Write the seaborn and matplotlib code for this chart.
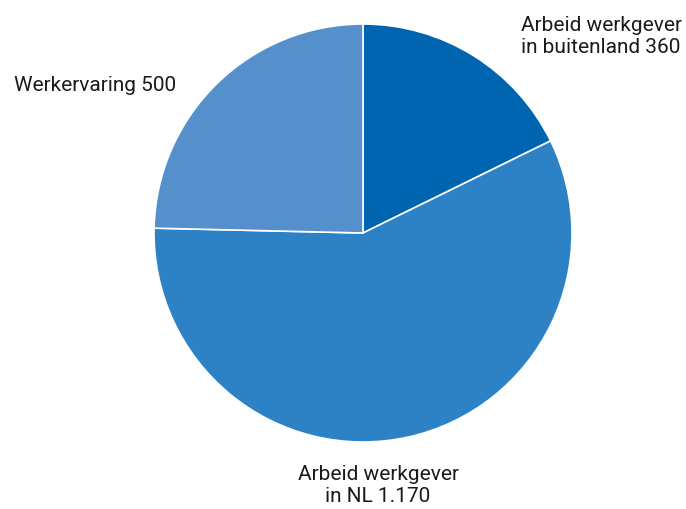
import matplotlib
matplotlib.use("Agg")
import matplotlib.pyplot as plt
import seaborn as sns

# data
labels = ["Arbeid werkgever\nin buitenland 360", "Arbeid werkgever\nin NL 1.170", "Werkervaring 500"]
values = [360, 1170, 500]
colors = ["#0065b0", "#2d82c6", "#5590cd"]

sns.set_theme(style="white")
plt.rcParams['font.family'] = ['Roboto', 'DejaVu Sans']

W, H = 686, 509
fig = plt.figure(figsize=(W / 100, H / 100), dpi=100)
cx, cy, r = 363, 233, 209
ax = fig.add_axes([(cx - r) / W, (H - cy - r) / H, 2 * r / W, 2 * r / H])

ax.pie(values, colors=colors, startangle=90, counterclock=False, radius=1,
       wedgeprops=dict(edgecolor="white", linewidth=1.2))
ax.set_xlim(-1, 1)
ax.set_ylim(-1, 1)
ax.set_aspect("equal")
ax.axis("off")

# label positions (data coords)
label_pos = [(1.139, 0.938), (0.072, -1.206), (-1.282, 0.708)]
for lab, (x, y) in zip(labels, label_pos):
    ax.text(x, y, lab, ha="center", va="center", fontsize=15, color="#1a1a1a",
            linespacing=1.2, clip_on=False)

fig.savefig("out.png", dpi=100)
